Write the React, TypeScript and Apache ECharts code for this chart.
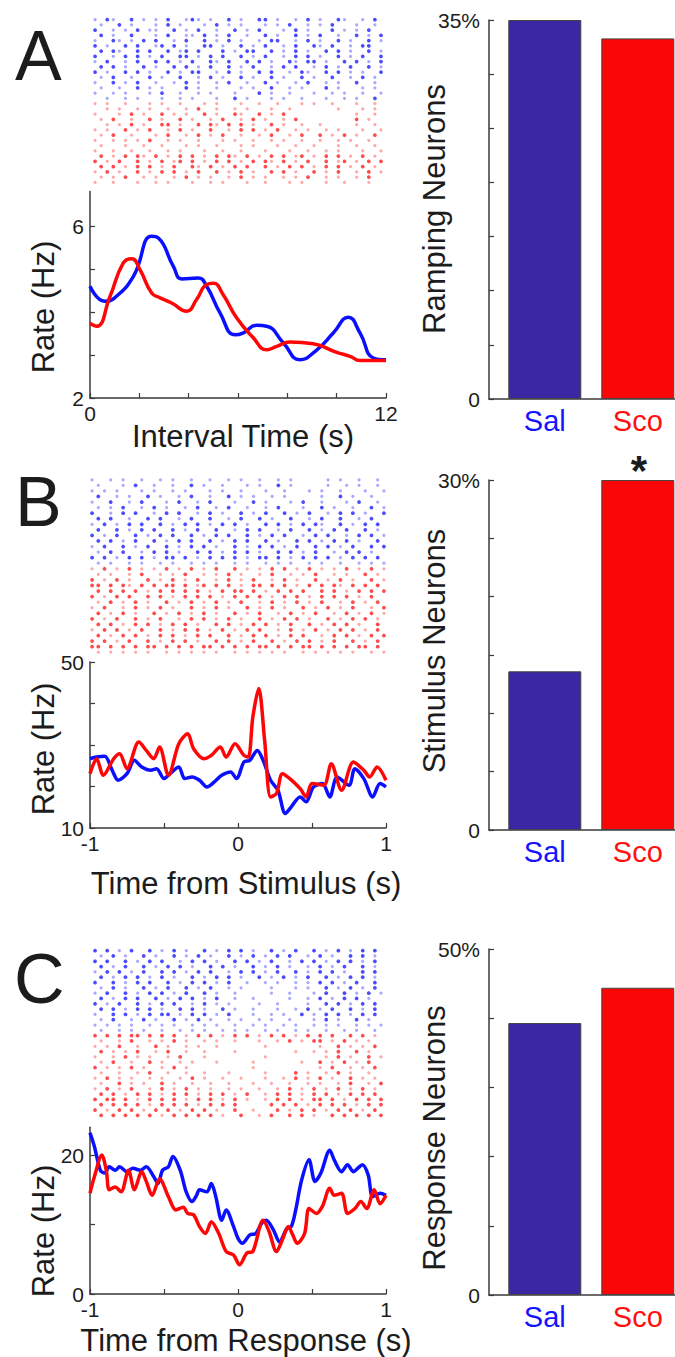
import React, { useEffect, useRef } from 'react';
import * as echarts from 'echarts';

const FONT = '"Liberation Sans", Arial, Helvetica, sans-serif';
const INK = '#1c1c1c';
const AXIS = '#3a3a3a';
const BLUE = '#0a10ff';
const RED = '#ff0606';
const BAR_SAL = '#3b27a3';
const BAR_SCO = '#f90606';

// ---------- Panel A: rate vs interval time ----------
const A_T_BLUE = [0, 0.6, 1.0, 1.76, 2.5, 2.77, 3.38, 3.72, 4.39, 4.73, 5.27, 5.88, 6.2, 6.76, 7.16, 7.84, 8.5, 9.2, 9.86, 10.47, 10.95, 11.49, 12];
const A_BLUE = [4.6, 4.25, 4.33, 4.83, 5.76, 5.72, 5.06, 4.77, 4.79, 4.6, 3.98, 3.47, 3.51, 3.69, 3.67, 3.28, 2.89, 3.12, 3.51, 3.88, 3.51, 2.93, 2.89];
const A_T_RED = [0, 0.27, 0.81, 1.35, 1.69, 2.03, 2.5, 2.84, 3.31, 3.92, 4.32, 4.73, 5.0, 5.4, 5.95, 6.62, 7.16, 7.57, 8.1, 9.05, 10.0, 10.54, 10.95, 12];
const A_RED = [3.74, 3.67, 4.36, 5.14, 5.24, 4.98, 4.44, 4.33, 4.21, 4.02, 4.29, 4.64, 4.67, 4.4, 3.86, 3.4, 3.12, 3.2, 3.3, 3.26, 3.06, 2.97, 2.87, 2.87];

// ---------- Panel B: rate vs time from stimulus ----------
const B_T_BLUE = [-1, -0.955, -0.9, -0.85, -0.81, -0.75, -0.7, -0.65, -0.59, -0.55, -0.5, -0.46, -0.4, -0.36, -0.31, -0.26, -0.21, -0.16, -0.11, -0.05, -0.01, 0.04, 0.08, 0.13, 0.17, 0.22, 0.27, 0.32, 0.36, 0.42, 0.46, 0.51, 0.57, 0.62, 0.67, 0.75, 0.79, 0.85, 0.91, 0.96, 1];
const B_BLUE = [26.7, 27.1, 27.3, 23.9, 21.5, 23.1, 26.3, 24.7, 23.9, 24.3, 21.9, 23.1, 24.7, 21.9, 22.3, 21.5, 19.9, 21.1, 22.7, 23.5, 21.9, 25.9, 26.3, 28.7, 26.3, 21.5, 19.1, 13.5, 15.1, 17.5, 16.3, 19.9, 20.7, 17.5, 22.3, 20.3, 24.3, 21.9, 17.5, 20.7, 19.9];
const B_T_RED = [-1, -0.955, -0.91, -0.84, -0.8, -0.75, -0.67, -0.62, -0.57, -0.53, -0.47, -0.4, -0.34, -0.3, -0.23, -0.18, -0.12, -0.08, -0.02, 0.04, 0.07, 0.1, 0.14, 0.18, 0.22, 0.26, 0.3, 0.35, 0.42, 0.46, 0.5, 0.58, 0.63, 0.7, 0.78, 0.85, 0.89, 0.94, 1];
const B_RED = [23.1, 26.7, 22.7, 26.7, 27.9, 24.3, 30.7, 28.7, 26.7, 29.5, 22.7, 30.3, 32.7, 29.1, 26.7, 27.5, 29.5, 27.1, 30.3, 27.5, 27.1, 36.7, 43.6, 31.1, 17.5, 18.3, 23.1, 21.9, 19.5, 17.5, 20.7, 20.3, 25.5, 19.1, 25.9, 23.9, 22.3, 24.7, 21.5];

// ---------- Panel C: rate vs time from response ----------
const C_T_BLUE = [-1, -0.97, -0.93, -0.9, -0.87, -0.83, -0.8, -0.75, -0.71, -0.66, -0.62, -0.57, -0.54, -0.51, -0.47, -0.44, -0.39, -0.35, -0.31, -0.28, -0.26, -0.21, -0.18, -0.15, -0.11, -0.08, -0.03, 0, 0.03, 0.08, 0.12, 0.16, 0.19, 0.24, 0.28, 0.33, 0.36, 0.39, 0.43, 0.48, 0.52, 0.56, 0.62, 0.65, 0.7, 0.74, 0.78, 0.81, 0.84, 0.88, 0.91, 0.96, 1];
const C_BLUE = [23.2, 21.2, 17.8, 17.4, 18.3, 17.8, 18.3, 17.6, 18.1, 17.8, 18.3, 16.9, 15.9, 17.8, 18.3, 19.8, 17.8, 14.7, 13.3, 14.2, 15.0, 14.7, 15.9, 14.0, 10.6, 12.1, 9.7, 8.0, 7.3, 8.5, 8.7, 10.2, 10.6, 9.2, 7.5, 9.4, 9.7, 12.1, 16.4, 19.3, 16.2, 17.4, 20.7, 19.3, 17.6, 18.6, 17.6, 18.1, 18.6, 17.1, 14.0, 14.5, 14.2];
const C_T_RED = [-1, -0.97, -0.92, -0.89, -0.87, -0.83, -0.79, -0.74, -0.7, -0.65, -0.62, -0.58, -0.53, -0.47, -0.42, -0.37, -0.34, -0.3, -0.26, -0.22, -0.18, -0.13, -0.08, -0.03, 0.01, 0.06, 0.1, 0.17, 0.21, 0.26, 0.3, 0.34, 0.37, 0.4, 0.45, 0.48, 0.53, 0.57, 0.62, 0.65, 0.7, 0.74, 0.79, 0.83, 0.87, 0.92, 0.96, 1];
const C_RED = [14.5, 16.9, 20.0, 17.8, 15.0, 15.4, 14.7, 17.8, 15.0, 17.6, 16.2, 14.2, 16.6, 14.0, 12.1, 12.5, 11.6, 11.4, 9.7, 8.7, 10.4, 8.7, 6.1, 5.6, 4.2, 5.9, 6.1, 10.6, 9.0, 6.1, 7.8, 9.7, 8.5, 7.3, 8.7, 12.3, 11.6, 12.6, 15.2, 14.2, 14.5, 11.6, 12.3, 13.3, 12.3, 15.0, 13.0, 14.2];

// ---------- Bar panels ----------
const GROUPS = ['Sal', 'Sco'];
const RAMPING_PCT = [35, 33.3];
const STIMULUS_PCT = [13.6, 30];
const RESPONSE_PCT = [39.3, 44.4];

// ---------- Tick values ----------
const A_X_TICKS = [0, 2, 4, 6, 8, 10, 12];
const A_X_LABELS = [0, 12];
const A_Y_TICKS = [2, 3, 4, 5, 6];
const A_Y_LABELS = [2, 6];
const BC_X_TICKS = [-1, -0.5, 0, 0.5, 1];
const BC_X_LABELS = [-1, 0, 1];
const B_Y_TICKS = [10, 20, 30, 40, 50];
const B_Y_LABELS = [10, 50];
const C_Y_TICKS = [0, 10, 20];
const C_Y_LABELS = [0, 20];
const RAMPING_TICKS = [0, 5, 10, 15, 20, 25, 30, 35];
const STIMULUS_TICKS = [0, 5, 10, 15, 20, 25, 30];
const RESPONSE_TICKS = [0, 10, 20, 30, 40, 50];

// ---------- Spike rasters (x = dark spike, o = faint spike, . = none) ----------
const RASTER_COLS = 48;
const A_RASTER_SAL = [
  'o.xo..x.o.o.x..oxo.o..x.o..xx.o..o.x.o..xo..o.x',
  '.o..x.o...o.x.o...o.x.o.o...o.o.x..o.o.x...o..o.',
  'x..o.o.x.oo..x.o.x..o..x.o.x...o.x.o...x.o.o.x..',
  '.x.o..x...o.x..oo.x.o.x..o..x.o..x.o.x..o..x.o.x',
  'o..xo.o.x.x..o.x..x.o.x.o..o.xx..o.x.o..x.o..x.o',
  'x.o..x.x..ox.x.o..xx.o..x.o.x..o.x..xo.x..o.xx..',
  '.x.xo..x.x..x.ox.x...x.o.xx..x.o.x.o..x.x.o..x.o',
  'x..o.x.x.o.x..xx.o.x.x..x.o.x..o.x.x.o..x.o.x..x',
  'o.x..o.x..x.x.o.x..xo.x..x.x.o..xo.xx.o..x.x.o.x',
  '.x.x.o..x.o..x.x.o.x..x.o.x..o.x.x..o.x.o.x..x.o',
  'x.o..x.x.o..x.o.xx..o.x.o..x.x..o.xo..x.x.o.o..x',
  '.o.x..o..x.o..x..o.x.o..x.o..x.o..x.o..x..o.x.o.',
  'o..x.o.x..o..o.x.o..o.x..o..x.o..o.x..o.o..x..o.',
  '.o..o..x.o.o...x.o..o...o.o..x..o.o...x.o...o.o.',
  'o..o.o...o.x..o..o.o...o...x.o..o...o..o.o..o..o',
  '..o..o.o...o..o.o...o..x.o...o.o..o...o..o.o..x.',
];
const A_RASTER_SCO = [
  'o.o..o...o.o..o...o.o...o..o..o...o.o..o...o..o.',
  '..o.o..o.o..o..o.x..o..o.o...o..o.......o...o.o.',
  'o...o.x.o..x.o.o..x.o..xo..x.o.x...........o..o.',
  '.o.x..o..x.o..x.o..o.x..o.x.o..o.x.........x.o..',
  '..o.o.x.o..xx.o..x.xo.x.x.o..x.o..o..o.....o..o.',
  'o.o..x.o.x..o.x.o..x..o.x.x.o.x..o.o..o.o...o..o',
  '.o.x..o...o.x..o.x.o.x..o..o.x..o.x..x.o.x.o..x.',
  'o..o.o.o.x..o.o..o...o.o..o..o.o..o..o..o.o..o..',
  '.o...o..o..o...o.o..o...o.o...o..o..o...o..o..o.',
  'o..o..o..o..o.o...o..o..o...o...o..o..o.o...o..o',
  '.x.o.x.xo.x.o.x.x.o.x.xo.x.o.x.x.ox.o.x.x.o.x.o.',
  'x.o.x..x.o.x.ox.x.o.x.x.o.x.xo.x.o.x..x.ox.o.x.x',
  '.x.x.o.x.x.o.x..xo.x.o.x.x..x.o.x.x.o.x.x.o.x.o.',
  'o.x.o..x.o.x.x.o.x..x.o.x.o..x.x.o..x.o.x..o.x.o',
  '.o.o.x..o.o..o.x.o.o..o.x.o.o..o.o.x..o.o..o.x..',
  'o..o...o..o.o...o..o.o...o..o...o.o...o..o...o..',
];
const B_RASTER_SAL = [
  'o..o.o..o..o.o..o..o..o.o..o..o.o.....o.o..o..o.',
  '.o...o.x..o..o..x.o..o...o.o..x.o.....o..o.o..o.',
  'o.o.o...o.o..o.o...o.o..o...o..o...o.o..o...o..o',
  '.x..o.o..x.o..o.x..o..x.o.o..o.o.....o..x.o..o..',
  'o..x..o.x...o.x..o.x...o..x.o...o.x..o...o.x..o.',
  '.o.o.x..o.x.o..o.x..o.x..o..o.x...o..x.o..o..x.o',
  'x..o.x.x..o.x.x..o.x.o..x.o.x..x.o.x..o.x.x.o..x',
  '.x.x..o..x.x..o.x..x..o.x..x.o..x..o.x..x..o.x..',
  'o.x.o.x.x..x.o.x.x.o.x.x.o..x.x.o.x.xo..x.o.x.x.',
  '.x..x.o.x.x..x.o.x..x..o.x.x..o.x..x.o.x.x..x.o.',
  'x.o.x..x.o.x.x..x.o.x.x..x.o.x.x..o.x.x..o.x.x.o',
  '.x.x.o.x..x.o.x.x..x.o.x.x..x.o..x.x.o.x.x.o..x.',
  'o.x..x.o.x..x.o.x.x.o..x.o.x.x.o.x..x.x.o.x..x.x',
  '.o.x.x..o.x.x.o..x.x.o.x.x.o..x.x.o.x..o.x.x.o..',
  'x.x.o.x.x.o.xx.x.o.x.x.x.o.xx.x.o.x.x.x.o.x.x.x.',
  '.o.o..o.o..o.o..o.o.o..o.o..o.o.o..o.o..o..o.o.o',
];
const B_RASTER_SCO = [
  'o.x.o.x.o.o.x.o.x.o.x..x.o.o.x.x.o.x.o.o.x.o.x.o',
  '.o.o..o.x..o.o.x..o.o.x.o..o.x..o.o.x..o.o..x.o.',
  'x.o.x.o..x.o.x.o.x..o.x.o.x..o.x.o..x.o.x.o..x.o',
  'xx.x.xo.x.x.xx.x.ox.x.x.o.xx.x.x.o.x.x.xo.x.x.x.',
  '.x.x.x.x.o.x.x.x.x.o.x.xx.x.o.x.x.x..x.x.o.x.x.x',
  'x.o.x.x..x.x.o.x.x.x.o.x.x.x.o.x.x.o.x.x.x.o.x..',
  '.o.x.o.x.o..x.o.x.o.x.o.x..o.x.o.x.o.x..o.x.o.x.',
  'o.x..o.x.o.x.o..x.o.x.o..x.o.x.o..x.o.x.o.x..o.x',
  '.x.o.x.o..x.o.x.o.x.o..x.o.x..o.x.o.x..o.x.o.x.o',
  'x.o.x..x.o.x..o.x.x.o.x.o..x.o.x.x.o..x.o.x.x.o.',
  '.x.x.o.x.x.o.x.x.o..x.x.o.x.x.o.x..x.o.x.x.o..x.',
  'o.x.x.o.x..x.o.x.x.o.x.o.x.x..o.x.o.x.o.x.x.o.x.',
  '.x.o.x.x.o.x.x.o.x.x..x.o.x.x.o.x.x..o.x.x.o.x.x',
  'x.x.o.x..x.o.x.x.o..x.x.o.x..x.o.x.x.o.x..x.o.x.',
  'xx.x.x.x.xx.x.x.x.xx.x.x.x.xx.x.x.xx.x.x.x.xx.x.',
  '.o.o.o.o.o..o.o.o.o.o..o.o.o.o.o..o.o.o.o.o..o.o',
];
const C_RASTER_SAL = [
  'x.x.o.x..x.o.x.o..x.o.x.x.o..x.o.x..x.o.x.o.x.x.',
  '.o.x.o..x.o..x.o.x.o..x.o.x.o.x.x..o.x.o..x.x.o.',
  'x.x..x.o.x.x..o.x.x.o..x.x.o.x..o.x.x.o.x.x.o.x.',
  '.x.o.x..x.o.x.x.o..x.x.o..x.o.x.o..o.x.o.x..x.o.',
  'o.x.x.o.x..x.x.o.x.x..o.x.x.o.x..x.o.x.x.o..x.x.',
  '.x.o.x.x.o.x.o..x.o.x.x.o..x.o.x.o.x..x.o.x.x.o.',
  'x..x.o.x.x..x.o.x.x.o.x..o..o.o..o.o.x.x.o.x..x.',
  '.o.x.o..x.o.x..x.o.x..o.o....o...o.o..x.o.x.o.x.',
  'o.x..x.o.x.x.o.x..x.o..o.....o..o...o.x..x.o.x.o',
  '.x.o.x.x..x.o.x.x.o.x..o..o.....o..o.x.o.x.x.o..',
  'x.o.x..x.o.x.x..o.x.o.o....o..o....o..x.x.o.x.x.',
  '.x.x.o.x.x.o..x.x.o..x.o..o...o..o.x.o.x..x.o.x.',
  'o..x.x.o.x.xx.o.x.x.o.x...o..o.o..x.o.x.x.o.x.x.',
  '.o.x..o.x.o..x.o.x.o..o.o..o.o..o...o.x.o..x.o..',
  'o.o.o.o..o.o.o..o.o.o..o..o.o..o.o..o.o.o..o.o.o',
  '.o..o.o.o..o..o.o.o..o.o.o..o.o..o.o..o..o.o..o.',
];
const C_RASTER_SCO = [
  'x.x.x.xx.x.x.x.o.x.x.o.x.x.o.x.x.o.x.x.x..x.x.o.',
  '.o..o.x..o.o.x.o..o.o..o...o..o.x.o.xx.o.x.o.o..',
  'o.o.x..o..x.o..o.o..o.......o........o..x.o.o.x.',
  '.x.o.o.x..o.x..o..o....o.........o..o.o.x..x.o..',
  'o..o.x.o.o..o.x...o.........o.........o.x.o..x.o',
  '.o.x..o..x.o..o.o...o.....o.......o..x.o.x.o.x..',
  'x.o.o.x.o..o.x.o..........o..........o.x..o.o.x.',
  '.o..o..o.x..o..o..o...o.....o....x.o..o.x.o..o..',
  'o.x.o.o..o.o..o.x.o..o..o...o..o.x.o.x.o..x.o.o.',
  '.o..x.o.o..x.o..o..o..o...o..o..o..o.o..o.x..o.x',
  'o.x.o.x..o.x.o.x.o.o..o.o..o..o.x.o.x.o.x.o.x.o.',
  '.x.x.o.x.x.o.x.x.o.x.x.o.x..o.x.x.o.x.x.o.x.x.x.',
  'x.xx.x.o.x.x.x.o.x.x.o.x.o..o.x.x.o.xx.x.o.x.x.x',
  '.x.x.x.x.o.x.x.x.o.x.x.x.....x.x.x.o.x.x.x.o.x.x',
  'x.o.x.x.o.x.x.o.x.x.o..x..o...x.o.x.x.o.x.x.o.x.',
  '.x.x.x.x.x.o.x.x.x.x.o..x..o.x..x.x.o..x.x.x.x.x',
];

function pairs(t: number[], v: number[]) {
  return t.map((x, i) => [x, v[i]]);
}

function rasterPoints(rows: string[], rowOffset: number, rgb: string) {
  const pts: any[] = [];
  rows.forEach((row, r) => {
    for (let c = 0; c < row.length; c++) {
      const ch = row[c];
      if (ch === 'x' || ch === 'o') {
        const dark = ch === 'x';
        pts.push({
          value: [c + 0.5, rowOffset + r + 0.5],
          symbolSize: dark ? 3.8 : 3.2,
          itemStyle: { color: `rgba(${rgb},${dark ? 0.88 : 0.42})` },
        });
      }
    }
  });
  return pts;
}

function buildOption() {
  const grids: any[] = [];
  const xAxes: any[] = [];
  const yAxes: any[] = [];
  const series: any[] = [];

  const axisLine = { show: true, onZero: false, lineStyle: { color: AXIS, width: 1.5 } };
  const tick = (vals: number[]) => ({ show: true, inside: true, length: 5, customValues: vals, lineStyle: { color: AXIS, width: 1.2 } });
  const label = (vals: number[], margin: number, fmt: (v: number) => string) => ({
    show: true, customValues: vals, margin, formatter: fmt, color: INK, fontFamily: FONT, fontSize: 21,
  });

  function addRaster(box: any, sal: string[], sco: string[]) {
    const gi = grids.length;
    grids.push(box);
    xAxes.push({ gridIndex: gi, type: 'value', min: 0, max: RASTER_COLS, show: false });
    yAxes.push({ gridIndex: gi, type: 'value', min: 0, max: sal.length + sco.length, inverse: true, show: false });
    series.push({
      type: 'scatter', xAxisIndex: gi, yAxisIndex: gi, symbol: 'circle', silent: true,
      data: [...rasterPoints(sal, 0, '0,0,255'), ...rasterPoints(sco, sal.length, '255,0,0')],
    });
  }

  function addLine(box: any, xr: number[], xt: number[], xl: number[], yr: number[], yt: number[], yl: number[],
    blue: number[][], red: number[][], smooth: number) {
    const gi = grids.length;
    grids.push(box);
    xAxes.push({
      gridIndex: gi, type: 'value', min: xr[0], max: xr[1], position: 'bottom',
      axisLine, axisTick: tick(xt), splitLine: { show: false },
      axisLabel: label(xl, 5, (v) => String(v)),
    });
    yAxes.push({
      gridIndex: gi, type: 'value', min: yr[0], max: yr[1], position: 'left',
      axisLine, axisTick: tick(yt), splitLine: { show: false },
      axisLabel: label(yl, 6, (v) => String(v)),
    });
    series.push({
      type: 'line', xAxisIndex: gi, yAxisIndex: gi, data: blue, smooth, showSymbol: false, silent: true,
      lineStyle: { color: BLUE, width: 3.5 }, clip: true,
    });
    series.push({
      type: 'line', xAxisIndex: gi, yAxisIndex: gi, data: red, smooth, showSymbol: false, silent: true,
      lineStyle: { color: RED, width: 3.5 }, clip: true,
    });
  }

  function addBar(box: any, yMax: number, yt: number[], values: number[]) {
    const gi = grids.length;
    grids.push(box);
    xAxes.push({
      gridIndex: gi, type: 'value', min: 0.4, max: 2.4, position: 'bottom',
      axisLine, axisTick: tick([1, 2]), splitLine: { show: false },
      axisLabel: {
        show: true, customValues: [1, 2], margin: 7,
        formatter: (v: number) => (v === 1 ? `{sal|${GROUPS[0]}}` : `{sco|${GROUPS[1]}}`),
        rich: {
          sal: { color: '#1414ff', fontFamily: FONT, fontSize: 29 },
          sco: { color: '#ff1010', fontFamily: FONT, fontSize: 29 },
        },
      },
    });
    yAxes.push({
      gridIndex: gi, type: 'value', min: 0, max: yMax, position: 'left',
      axisLine, axisTick: tick(yt), splitLine: { show: false },
      axisLabel: label([0, yMax], 9, (v) => (v === 0 ? '0' : `${v}%`)),
    });
    series.push({
      type: 'bar', xAxisIndex: gi, yAxisIndex: gi, barWidth: 73, silent: true,
      data: values.map((v, i) => ({
        value: [i + 1, v],
        itemStyle: { color: i === 0 ? BAR_SAL : BAR_SCO, borderColor: '#444', borderWidth: 1 },
      })),
    });
  }

  // Panel A
  addRaster({ left: 92, top: 17, width: 292, height: 168 }, A_RASTER_SAL, A_RASTER_SCO);
  addLine({ left: 90, top: 191.6, width: 296, height: 206.4 }, [0, 12], A_X_TICKS, A_X_LABELS,
    [2, 6.8], A_Y_TICKS, A_Y_LABELS, pairs(A_T_BLUE, A_BLUE), pairs(A_T_RED, A_RED), 0.5);
  addBar({ left: 489, top: 20, width: 186, height: 379 }, 35, RAMPING_TICKS, RAMPING_PCT);

  // Panel B
  addRaster({ left: 89, top: 477, width: 298, height: 178 }, B_RASTER_SAL, B_RASTER_SCO);
  addLine({ left: 90, top: 662, width: 296, height: 166 }, [-1, 1], BC_X_TICKS, BC_X_LABELS,
    [10, 50], B_Y_TICKS, B_Y_LABELS, pairs(B_T_BLUE, B_BLUE), pairs(B_T_RED, B_RED), 0.3);
  addBar({ left: 489, top: 480, width: 186, height: 350 }, 30, STIMULUS_TICKS, STIMULUS_PCT);

  // Panel C
  addRaster({ left: 92, top: 948, width: 292, height: 170 }, C_RASTER_SAL, C_RASTER_SCO);
  addLine({ left: 90, top: 1127.2, width: 296, height: 166.8 }, [-1, 1], BC_X_TICKS, BC_X_LABELS,
    [0, 24], C_Y_TICKS, C_Y_LABELS, pairs(C_T_BLUE, C_BLUE), pairs(C_T_RED, C_RED), 0.3);
  addBar({ left: 489, top: 949, width: 186, height: 346 }, 50, RESPONSE_TICKS, RESPONSE_PCT);

  const txt = (text: string, x: number, y: number, size: number, rotate = 0, align = 'center', weight = 'normal') => ({
    type: 'text', x, y, rotation: rotate, silent: true,
    style: {
      text, fill: INK, fontFamily: FONT, fontSize: size, fontWeight: weight,
      textAlign: align, textVerticalAlign: 'middle',
    },
  });
  const R = Math.PI / 2;
  const graphic = [
    txt('A', 15, 56, 70, 0, 'left'),
    txt('B', 15, 502, 70, 0, 'left'),
    txt('C', 14, 979, 70, 0, 'left'),
    txt('Rate (Hz)', 43, 307, 31, R),
    txt('Rate (Hz)', 43, 749, 31, R),
    txt('Rate (Hz)', 43, 1231, 31, R),
    txt('Interval Time (s)', 243, 436, 31),
    txt('Time from Stimulus (s)', 246, 883, 31),
    txt('Time from Response (s)', 246, 1340, 31),
    txt('Ramping Neurons', 434, 209, 31, R),
    txt('Stimulus Neurons', 434, 651, 31, R),
    txt('Response Neurons', 434, 1138, 31, R),
    txt('*', 639, 470, 42, 0, 'center', 'bold'),
  ];

  return {
    animation: false,
    backgroundColor: '#ffffff',
    grid: grids.map((g) => ({ ...g, containLabel: false })),
    xAxis: xAxes,
    yAxis: yAxes,
    series,
    graphic,
  };
}

export default function App() {
  const ref = useRef<HTMLDivElement>(null);
  useEffect(() => {
    if (!ref.current) return;
    const chart = echarts.init(ref.current, null, { renderer: 'svg' });
    chart.setOption(buildOption() as any);
    return () => chart.dispose();
  }, []);
  return (
    <div
      ref={ref}
      style={{ position: 'fixed', left: 0, top: 0, width: 675, height: 1357, background: '#fff' }}
    />
  );
}
